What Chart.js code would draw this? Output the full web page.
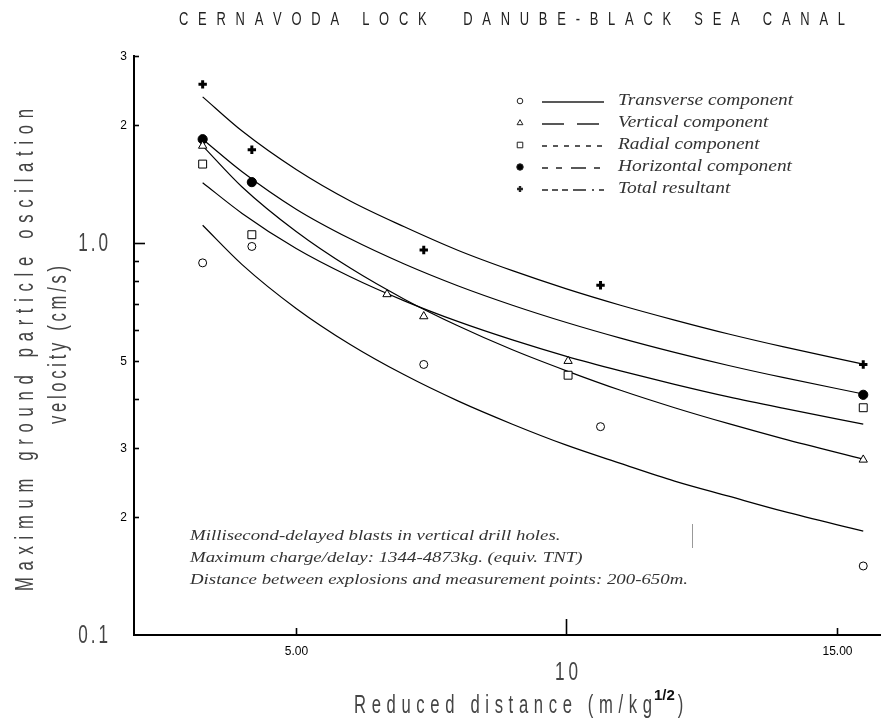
<!DOCTYPE html>
<html>
<head>
<meta charset="utf-8">
<script src="https://cdn.jsdelivr.net/npm/chart.js@4.4.0/dist/chart.umd.min.js"></script>
<style>
  html, body { margin: 0; padding: 0; background: #fff; }
</style>
</head>
<body>
<canvas id="chart" width="890" height="727"></canvas>
<script>
"use strict";

const chartTitle = "CERNAVODA LOCK  DANUBE-BLACK SEA CANAL";
const yTitleLines = ["Maximum ground particle oscilation", "velocity (cm/s)"];
const xTitleMain = "Reduced distance (m/kg";
const xTitleSup = "1/2";
const xTitleEnd = ")";

const seriesNames = ["Transverse component", "Vertical component", "Radial component", "Horizontal component", "Total resultant"];
const noteLines = [
  "Millisecond-delayed blasts in vertical drill holes.",
  "Maximum charge/delay: 1344-4873kg. (equiv. TNT)",
  "Distance between explosions and measurement points: 200-650m."
];

// measured points
const transverseX = [3.27, 4.18, 7.36, 10.63, 15.49];
const transverseY = [0.89, 0.98, 0.49, 0.34, 0.15];
const verticalX = [3.27, 6.68, 7.36, 10.03, 15.49];
const verticalY = [1.77, 0.74, 0.65, 0.50, 0.28];
const radialX = [3.27, 4.18, 10.03, 15.49];
const radialY = [1.59, 1.05, 0.46, 0.38];
const horizontalX = [3.27, 4.18, 15.49];
const horizontalY = [1.84, 1.43, 0.41];
const totalX = [3.27, 4.18, 7.36, 10.63, 15.49];
const totalY = [2.54, 1.73, 0.96, 0.78, 0.49];

// fitted curves
const curveX = [3.27, 4, 5, 6, 7, 8, 9, 10, 11, 12, 13, 14, 15.49];
const transverseFit = [1.11, 0.881, 0.681, 0.551, 0.461, 0.395, 0.345, 0.305, 0.274, 0.247, 0.226, 0.207, 0.184];
const verticalFit = [1.77, 1.39, 1.07, 0.863, 0.719, 0.614, 0.534, 0.472, 0.421, 0.380, 0.346, 0.317, 0.281];
const radialFit = [1.425, 1.19, 0.968, 0.820, 0.712, 0.630, 0.566, 0.514, 0.472, 0.436, 0.405, 0.379, 0.345];
const horizontalFit = [1.84, 1.52, 1.22, 1.025, 0.884, 0.777, 0.694, 0.627, 0.572, 0.526, 0.487, 0.454, 0.412];
const totalFit = [2.36, 1.93, 1.54, 1.28, 1.10, 0.957, 0.850, 0.764, 0.694, 0.636, 0.586, 0.544, 0.491];

// axis ticks
const yTickValues = [3, 2, 1, 0.9, 0.8, 0.7, 0.6, 0.5, 0.4, 0.3, 0.2, 0.1];
const yTickLabels = ["3", "2", "1.0", "", "", "", "", "5", "", "3", "2", "0.1"];
const yTickMajor = [false, false, true, false, false, false, false, false, false, false, false, true];
const xTickValues = [5, 10, 15];
const xTickLabels = ["5.00", "10", "15.00"];
const xTickMajor = [false, true, false];

const NARROW = "'Liberation Sans', Arial, sans-serif";
const SERIF = "'Liberation Serif', 'Times New Roman', serif";
const GREY = "#444";

const toPoints = (xs, ys) => xs.map((x, i) => ({ x: x, y: ys[i] }));

const markers = [
  { style: "circle", radius: 4, fill: "#fff", width: 1 },
  { style: "triangle", radius: 4.8, fill: "#fff", width: 1 },
  { style: "rect", radius: 5.6, fill: "#fff", width: 1 },
  { style: "circle", radius: 4.6, fill: "#000", width: 1 },
  { style: "cross", radius: 4.2, fill: "#000", width: 3 },
];
const pointData = [
  toPoints(transverseX, transverseY),
  toPoints(verticalX, verticalY),
  toPoints(radialX, radialY),
  toPoints(horizontalX, horizontalY),
  toPoints(totalX, totalY),
];
const fitData = [transverseFit, verticalFit, radialFit, horizontalFit, totalFit];
const legendDash = [[], [22, 13], [5, 6], [6, 8, 6, 9, 15, 8], [6, 4, 6, 4, 6, 5, 13, 6, 2, 5]];

// draws text char by char so it can be condensed and letter spaced
function spacedText(ctx, text, x, y, o) {
  ctx.save();
  ctx.font = o.font;
  ctx.fillStyle = o.color || "#222";
  ctx.textBaseline = o.baseline || "middle";
  ctx.textAlign = "left";
  const sx = o.scaleX || 1;
  const chars = Array.from(text);
  const w = chars.map(c => ctx.measureText(c).width * sx);
  const raw = w.reduce((a, b) => a + b, 0);
  let sp = o.spacing || 0;
  if (o.width) sp = (o.width - raw) / Math.max(1, chars.length - 1);
  const total = raw + sp * (chars.length - 1);
  if (!o.dry) {
    ctx.translate(x, y);
    if (o.rotate) ctx.rotate(o.rotate);
    let cx = o.align === "center" ? -total / 2 : o.align === "right" ? -total : 0;
    chars.forEach((c, i) => {
      ctx.save();
      ctx.translate(cx, 0);
      ctx.scale(sx, 1);
      ctx.fillText(c, 0, 0);
      ctx.restore();
      cx += w[i] + sp;
    });
  }
  ctx.restore();
  return total;
}

function scaledText(ctx, text, x, y, font, k, color) {
  ctx.save();
  ctx.font = font;
  ctx.fillStyle = color || "#333";
  ctx.textBaseline = "middle";
  ctx.textAlign = "left";
  ctx.translate(x, y);
  ctx.scale(k, 1);
  ctx.fillText(text, 0, 0);
  ctx.restore();
}

const decor = {
  id: "decor",
  afterDraw(chart) {
    const ctx = chart.ctx;
    const xs = chart.scales.x;
    const ys = chart.scales.y;
    const area = chart.chartArea;

    // y ticks, drawn inward
    ctx.save();
    ctx.strokeStyle = "#000";
    ctx.lineWidth = 1.6;
    yTickValues.forEach((v, i) => {
      const py = Math.round(ys.getPixelForValue(v)) + 0.5;
      const len = yTickMajor[i] ? 11 : 5;
      if (v > 0.1) {
        ctx.beginPath();
        ctx.moveTo(area.left, py);
        ctx.lineTo(area.left + len, py);
        ctx.stroke();
      }
      const lab = yTickLabels[i];
      if (!lab) return;
      if (yTickMajor[i]) {
        spacedText(ctx, lab, 108, py, { font: "26px " + NARROW, scaleX: 0.66, spacing: 3, align: "right", color: GREY });
      } else {
        spacedText(ctx, lab, 127, py, { font: "12px " + NARROW, align: "right", color: "#000" });
      }
    });
    // x ticks, drawn inward
    xTickValues.forEach((v, i) => {
      const px = Math.round(xs.getPixelForValue(v)) + 0.5;
      const len = xTickMajor[i] ? 16 : 7;
      ctx.beginPath();
      ctx.moveTo(px, area.bottom);
      ctx.lineTo(px, area.bottom - len);
      ctx.stroke();
      if (xTickMajor[i]) {
        spacedText(ctx, xTickLabels[i], px, 673, { font: "26px " + NARROW, scaleX: 0.66, spacing: 4, align: "center", color: GREY });
      } else {
        spacedText(ctx, xTickLabels[i], px, 652, { font: "12px " + NARROW, align: "center", color: "#000" });
      }
    });
    ctx.restore();

    // titles
    spacedText(ctx, chartTitle, 512, 20, { font: "19px " + NARROW, scaleX: 0.68, width: 666, align: "center", color: "#222" });
    spacedText(ctx, yTitleLines[0], 33, 350, { font: "26px " + NARROW, scaleX: 0.64, width: 482, align: "center", baseline: "alphabetic", rotate: -Math.PI / 2, color: GREY });
    spacedText(ctx, yTitleLines[1], 66, 345, { font: "26px " + NARROW, scaleX: 0.64, width: 158, align: "center", baseline: "alphabetic", rotate: -Math.PI / 2, color: GREY });

    const mainW = 298;
    const x0 = 354;
    spacedText(ctx, xTitleMain, x0, 713, { font: "26px " + NARROW, scaleX: 0.64, width: mainW, baseline: "alphabetic", color: GREY });
    const supW = spacedText(ctx, xTitleSup, x0 + mainW + 2, 700, { font: "bold 15px " + NARROW, baseline: "alphabetic", color: "#111" });
    spacedText(ctx, xTitleEnd, x0 + mainW + supW + 5, 713, { font: "26px " + NARROW, scaleX: 0.64, baseline: "alphabetic", color: GREY });

    // legend
    const rows = [101, 123, 145, 167, 189];
    ctx.save();
    ctx.font = "italic 16px " + SERIF;
    const k = 174 / ctx.measureText(seriesNames[3]).width;
    ctx.restore();
    seriesNames.forEach((name, i) => {
      const y = rows[i];
      const m = markers[i];
      ctx.save();
      ctx.strokeStyle = "#222";
      ctx.fillStyle = m.fill;
      ctx.lineWidth = m.width === 3 ? 2.4 : 1;
      Chart.helpers.drawPoint(ctx, { pointStyle: m.style, radius: m.radius * 0.7, rotation: 0, borderWidth: ctx.lineWidth }, 520, y);
      ctx.restore();
      ctx.save();
      ctx.strokeStyle = "#222";
      ctx.lineWidth = 1.3;
      ctx.setLineDash(legendDash[i]);
      ctx.beginPath();
      ctx.moveTo(542, y + 1);
      ctx.lineTo(604, y + 1);
      ctx.stroke();
      ctx.restore();
      scaledText(ctx, name, 618, y, "italic 16px " + SERIF, k, "#333");
    });

    // note
    ctx.save();
    ctx.font = "italic 15px " + SERIF;
    const kn = 498 / ctx.measureText(noteLines[2]).width;
    ctx.restore();
    noteLines.forEach((line, i) => {
      scaledText(ctx, line, 190, 536 + i * 22, "italic 15px " + SERIF, kn, "#333");
    });
    ctx.save();
    ctx.strokeStyle = "#999";
    ctx.lineWidth = 1;
    ctx.beginPath();
    ctx.moveTo(692.5, 524);
    ctx.lineTo(692.5, 548);
    ctx.stroke();
    ctx.restore();
  }
};

const datasets = [];
fitData.forEach((fit, i) => {
  datasets.push({
    label: seriesNames[i] + " fit",
    data: toPoints(curveX, fit),
    showLine: true,
    borderColor: "#000",
    borderWidth: 1.2,
    pointRadius: 0,
    tension: 0.4,
    cubicInterpolationMode: "monotone",
    order: 2,
  });
});
pointData.forEach((pts, i) => {
  const m = markers[i];
  datasets.push({
    label: seriesNames[i],
    data: pts,
    showLine: false,
    pointStyle: m.style,
    pointRadius: m.radius,
    pointBackgroundColor: m.fill,
    pointBorderColor: "#000",
    pointBorderWidth: m.width,
    order: 1,
  });
});

document.addEventListener("DOMContentLoaded", function () {
  const canvasElement = document.getElementById("chart");
  new Chart(canvasElement, {
    type: "scatter",
    data: { datasets: datasets },
    options: {
      responsive: false,
      animation: false,
      devicePixelRatio: 1,
      layout: { padding: { top: 56, right: 10, left: 0, bottom: 0 } },
      plugins: {
        legend: { display: false },
        tooltip: { enabled: false },
        title: { display: false },
      },
      scales: {
        x: {
          type: "linear",
          min: 2,
          max: 15.8,
          grid: { display: false },
          border: { display: true, color: "#000", width: 2 },
          ticks: { display: false },
          afterFit: scale => { scale.height = 92; },
        },
        y: {
          type: "logarithmic",
          min: 0.1,
          max: 3,
          grid: { display: false },
          border: { display: true, color: "#000", width: 2 },
          ticks: { display: false },
          afterFit: scale => { scale.width = 134; },
        },
      },
    },
    plugins: [decor],
  });
});
</script>
</body>
</html>
